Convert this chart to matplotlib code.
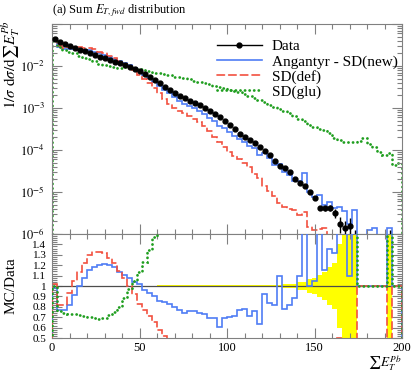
import numpy as np
import matplotlib
matplotlib.use('Agg')
import matplotlib.pyplot as plt
from matplotlib.lines import Line2D
from matplotlib.ticker import FixedLocator, FixedFormatter, MultipleLocator, LogLocator, NullFormatter

plt.rcParams['font.family'] = ['Liberation Serif', 'DejaVu Serif']
plt.rcParams['mathtext.fontset'] = 'stix'

nan = np.nan
edges = np.linspace(0, 200, 71)
centres = 0.5 * (edges[1:] + edges[:-1])

# data, log10 of 1/sigma dsigma/dSumEt per bin (nan = empty bin)
data_log = [-1.36, -1.44, -1.48, -1.52, -1.56, -1.61, -1.65, -1.69, -1.73, -1.78,
            -1.82, -1.86, -1.90, -1.94, -1.98, -2.02, -2.07, -2.13, -2.19, -2.26,
            -2.33, -2.41, -2.49, -2.57, -2.64, -2.71, -2.77, -2.83, -2.88, -2.94,
            -3.00, -3.07, -3.14, -3.22, -3.31, -3.41, -3.51, -3.62, -3.69, -3.76,
            -3.83, -3.92, -4.03, -4.12, -4.26, -4.37, -4.42, -4.52, -4.68, -4.78,
            -4.86, -5.00, -5.15, -5.38, -5.38, -5.37, -5.50, -5.75, -5.86, -5.80,
            -6.20, nan, nan, nan, nan, nan, nan, -6.20, nan, nan]
# relative data uncertainty (yellow band)
data_relerr = [0.004] * 21 + [0.005] * 10 + [0.006] * 7 + [0.008] * 4 + [0.010] * 4 \
    + [0.02] * 3 + [0.035, 0.04, 0.07, 0.08, 0.11, 0.13, 0.18, 0.22, 0.4, 0.5, 0.55,
                    1.0, 0, 0, 0, 0, 0, 0, 1.0, 0, 0]

sd_new_ratio = [0.98, 0.77, 0.77, 0.82, 0.91, 1.00, 1.08, 1.15, 1.18, 1.20,
                1.21, 1.20, 1.18, 1.13, 1.11, 1.08, 1.04, 1.02, 0.96, 0.93,
                0.90, 0.86, 0.85, 0.83, 0.80, 0.77, 0.74, 0.76, 0.76, 0.74,
                0.73, 0.69, 0.69, 0.61, 0.69, 0.70, 0.71, 0.77, 0.78, 0.71,
                0.76, 0.63, 0.92, 0.84, 0.82, 1.10, 0.78, 0.82, 0.88, 1.10,
                2.00, 1.00, 1.05, 2.00, 1.15, 1.36, 1.32, 2.50, 2.50, 1.10]
sd_new_tail_log = [-5.43, nan, nan, -5.90, -5.86, nan, nan, -5.85, nan, nan]

# SD(def)
sd_def_ratio = [1.02, 0.82, 0.82, 0.93, 1.05, 1.13, 1.22, 1.30, 1.33, 1.33,
                1.32, 1.27, 1.22, 1.14, 1.08, 1.00, 0.92, 0.83, 0.77, 0.71,
                0.65, 0.58, 0.52]
sd_def_tail_log = [-2.90, -3.00, -3.07, -3.13, -3.20, -3.27, -3.34, -3.42, -3.55, -3.68,
                   -3.80, -3.93, -4.05, -4.14, -4.22, -4.30, -4.40, -4.58, -4.66, -4.85,
                   -4.98, -5.10, -5.26, -5.36, -5.40, -5.43, -5.55, -5.48, -5.83, -5.90,
                   -5.88, -5.85, nan, nan, -6.05] + [nan] * 12

# SD(glu)
sd_glu_ratio = [1.00, 0.76, 0.74, 0.73, 0.73, 0.72, 0.71, 0.70, 0.69, 0.68,
                0.69, 0.72, 0.75, 0.80, 0.88, 0.97, 1.05, 1.13, 1.23, 1.35, 1.47]
sd_glu_tail_log = [-2.17, -2.19, -2.22, -2.25, -2.27, -2.29, -2.32, -2.35, -2.37, -2.40,
                   -2.43, -2.47, -2.50, -2.53, -2.56, -2.59, -2.63, -2.67, -2.71, -2.75,
                   -2.80, -2.86, -2.93, -2.98, -3.03, -3.08, -3.12, -3.20, -3.27, -3.30,
                   -3.40, -3.45, -3.50, -3.52, -3.60, -3.71, -3.75, -3.82, -3.80, -3.82,
                   -3.78, -3.72, -3.85, -3.93, -4.05, -4.12, -4.08, -4.35, -4.30]


def from_log(v):
    v = 10 ** np.array(v, dtype=float)
    return np.nan_to_num(v, nan=0.0)


data = from_log(data_log)
relerr = np.array(data_relerr)


def build(ratio, tail_log):
    n = len(ratio)
    return np.concatenate([data[:n] * np.array(ratio), from_log(tail_log)])


sd_new = build(sd_new_ratio, sd_new_tail_log)
sd_def = build(sd_def_ratio, sd_def_tail_log)
sd_glu = build(sd_glu_ratio, sd_glu_tail_log)

c_blue = '#4f7df5'
c_red = '#f2503f'
c_green = '#1f9e1f'
styles = [
    (sd_new, dict(color=c_blue, lw=1.2, ls='-'), 'Angantyr - SD(new)'),
    (sd_def, dict(color=c_red, lw=1.2, ls=(0, (4.5, 2.5))), 'SD(def)'),
    (sd_glu, dict(color=c_green, lw=2.0, ls=(0, (0.05, 1.6))), 'SD(glu)'),
]

fig = plt.figure(figsize=(4.15, 3.75), dpi=100)
ax = fig.add_axes([52 / 415, 141 / 375, 350 / 415, 210 / 375])
axr = fig.add_axes([52 / 415, 37 / 375, 350 / 415, 104 / 375])

# main panel
handles = [Line2D([], [], color='k', marker='o', ms=3.5, lw=1)]
labels = ['Data']
for vals, st, lab in styles:
    p = ax.stairs(np.where(vals > 0, vals, 1e-12), edges, **st)
    p.set_capstyle('round')
    handles.append(Line2D([], [], dash_capstyle='round', **st))
    labels.append(lab)

m = data > 0
yerr_lo = np.minimum(data * relerr, data * 0.999)
ax.errorbar(centres[m], data[m], yerr=[yerr_lo[m], (data * relerr)[m]], fmt='o',
            color='k', ms=3.5, elinewidth=1, capsize=0, zorder=5)

ax.set_yscale('log')
ax.set_ylim(1e-6, 1e-1)
ax.set_xlim(0, 200)
ax.yaxis.set_major_locator(FixedLocator([1e-6, 1e-5, 1e-4, 1e-3, 1e-2, 1e-1]))
ax.yaxis.set_major_formatter(FixedFormatter([r'$10^{-6}$', r'$10^{-5}$', r'$10^{-4}$',
                                             r'$10^{-3}$', r'$10^{-2}$', '']))
ax.yaxis.set_minor_locator(LogLocator(base=10, subs=np.arange(2, 10)))
ax.yaxis.set_minor_formatter(NullFormatter())
ax.tick_params(axis='x', labelbottom=False)

ax.legend(handles, labels, loc='upper left', bbox_to_anchor=(0.47, 0.925),
          frameon=False, fontsize=11, handlelength=3.0, handletextpad=0.6,
          labelspacing=0.08, borderpad=0, borderaxespad=0)

# ratio panel
def ratio_of(vals):
    return np.where(data > 0, vals / np.where(data > 0, data, 1), 1.0)


band = np.where(m, relerr, 0)
lo = np.append(1 - band, 1 - band[-1])
hi = np.append(1 + band, 1 + band[-1])
axr.fill_between(edges, lo, hi, step='post', color='#ffff00', lw=0, zorder=1)
axr.axhline(1, color='#4d4d4d', lw=0.9, zorder=2)
for vals, st, lab in styles:
    p = axr.stairs(ratio_of(vals), edges, zorder=3, **st)
    p.set_capstyle('round')

axr.set_xlim(0, 200)
axr.set_ylim(0.5, 1.5)
axr.yaxis.set_major_locator(FixedLocator(np.round(np.arange(0.5, 1.45, 0.1), 2)))
axr.yaxis.set_major_formatter(FixedFormatter(['0.5', '0.6', '0.7', '0.8', '0.9', '1',
                                              '1.1', '1.2', '1.3', '1.4']))
axr.yaxis.set_minor_locator(MultipleLocator(0.02))

for a in (ax, axr):
    a.xaxis.set_major_locator(MultipleLocator(50))
    a.xaxis.set_minor_locator(MultipleLocator(10))
    a.tick_params(which='both', direction='in', top=True, right=True,
                  color='#808080', labelsize=9)
    a.tick_params(which='major', length=7, width=0.8, pad=5)
    a.tick_params(which='minor', length=3.5, width=0.8)
    for s in a.spines.values():
        s.set_color('#808080')
axr.tick_params(axis='y', labelsize=8, pad=4)
axr.tick_params(axis='x', pad=3)

fig.text(52 / 415, 1 - 11 / 375, r'(a) Sum $E_{T,fwd}$ distribution', fontsize=9,
         ha='left', va='center')
fig.text(11 / 415, 1 - 20 / 375, r'$1/\sigma\ \mathrm{d}\sigma/\mathrm{d}\sum E_T^{Pb}$',
         fontsize=11, rotation=90, ha='center', va='top')
fig.text(11 / 415, 1 - 286 / 375, 'MC/Data', fontsize=11, rotation=90,
         ha='center', va='center')
fig.text(402 / 415, 2 / 375, r'$\sum E_T^{Pb}$', fontsize=9.5,
         ha='right', va='bottom')

fig.savefig('out.png', dpi=100)
